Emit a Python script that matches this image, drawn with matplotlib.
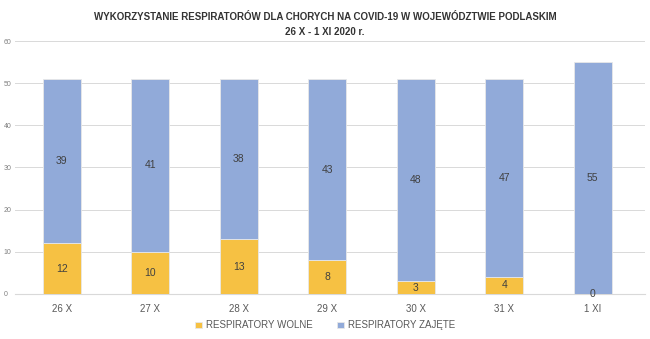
import matplotlib.pyplot as plt
import numpy as np

plt.rcParams['font.family'] = ['Liberation Sans', 'DejaVu Sans']

days = ['26 X', '27 X', '28 X', '29 X', '30 X', '31 X', '1 XI']
wolne = [12, 10, 13, 8, 3, 4, 0]
zajete = [39, 41, 38, 43, 48, 47, 55]

c_wolne = '#F6C143'
c_zajete = '#91AAD9'
txt = '#404040'

fig = plt.figure(figsize=(6.5, 3.39), dpi=100)
ax = fig.add_axes([0.023, 0.133, 0.969, 0.746])

x = np.arange(len(days))
w = 0.43
b1 = ax.bar(x, wolne, w, color=c_wolne, edgecolor='#e8e8e8', linewidth=0.6,
            label='RESPIRATORY WOLNE', zorder=3)
b2 = ax.bar(x, zajete, w, bottom=wolne, color=c_zajete, edgecolor='#e8e8e8',
            linewidth=0.6, label='RESPIRATORY ZAJĘTE', zorder=3)

for i in range(len(days)):
    ax.text(x[i], wolne[i] / 2, str(wolne[i]), ha='center', va='center',
            fontsize=7.5, color=txt, zorder=4)
    ax.text(x[i], wolne[i] + zajete[i] / 2, str(zajete[i]), ha='center',
            va='center', fontsize=7.5, color=txt, zorder=4)

ax.set_xlim(-0.53, 6.59)
ax.set_ylim(0, 60)
ax.set_yticks(range(0, 61, 10))
ax.grid(axis='y', color='#d9d9d9', linewidth=0.7, zorder=0)
for s in ['top', 'right', 'left']:
    ax.spines[s].set_visible(False)
ax.spines['bottom'].set_color('#d9d9d9')
ax.tick_params(axis='both', length=0)
ax.tick_params(axis='y', labelsize=5, labelcolor='#808080', pad=1)
ax.tick_params(axis='x', labelsize=7, labelcolor='#595959', pad=7)
ax.set_xticks(x)
ax.set_xticklabels(days)
for lbl in ax.get_yticklabels():
    lbl.set_horizontalalignment('left')
    lbl.set_x(-0.016)

fig.text(0.5, 0.951, 'WYKORZYSTANIE RESPIRATORÓW DLA CHORYCH NA COVID-19 W WOJEWÓDZTWIE PODLASKIM',
         ha='center', va='center', fontsize=7.0, fontweight='bold', color='#333333')
fig.text(0.5, 0.906, '26 X - 1 XI 2020 r.', ha='center', va='center',
         fontsize=7.0, fontweight='bold', color='#333333')

fig.legend(handles=[b1, b2], loc='center', bbox_to_anchor=(0.5, 0.04), ncol=2,
           frameon=False, fontsize=7, handlelength=0.7, handleheight=0.7,
           columnspacing=2.5, handletextpad=0.4, labelcolor='#595959')

plt.savefig('out.png', dpi=100)
